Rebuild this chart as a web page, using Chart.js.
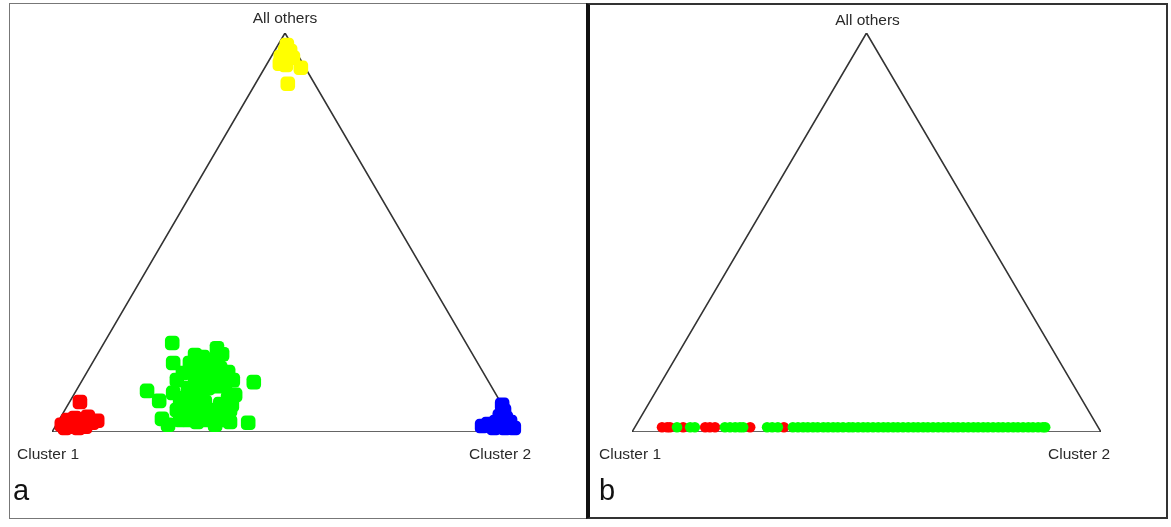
<!DOCTYPE html>
<html>
<head>
<meta charset="utf-8">
<script src="https://cdn.jsdelivr.net/npm/chart.js@4.4.1/dist/chart.umd.min.js"></script>
<style>
  body { margin: 0; background: #fff; width: 1171px; height: 527px; overflow: hidden; position: relative; }
  .panel { position: absolute; box-sizing: border-box; }
  #panel-a { left: 9px; top: 3px; width: 580px; height: 516px; border: 1px solid #777; border-right: none; }
  #panel-b { left: 586px; top: 3px; width: 582px; height: 516px; border: 2px solid #333; border-left: 4px solid #111; }
  canvas { position: absolute; }
  #chart-a { left: 10px; top: 4px; }
  #chart-b { left: 590px; top: 5px; }
  .letter { position: absolute; font-family: "Liberation Sans", Arial, sans-serif; font-size: 29px; color: #111; }
</style>
</head>
<body>
<div class="panel" id="panel-a"></div>
<div class="panel" id="panel-b"></div>
<canvas id="chart-a" width="575" height="514"></canvas>
<canvas id="chart-b" width="575" height="512"></canvas>
<div class="letter" style="left:13px; top:474px;">a</div>
<div class="letter" style="left:599px; top:474px;">b</div>
<script>
  'use strict';

  // corner labels of the ternary plot (bottom-left, bottom-right, top)
  const vertexLabels = ['Cluster 1', 'Cluster 2', 'All others'];

  // triangle outline, in plot percent (x along the base, y = share of "All others")
  const triangleX = [0, 100, 50, 0];
  const triangleY = [0, 0, 100, 0];

  // panel a, [x %, y %]
  const redA = [
    [6.0, 7.5], [2.1, 1.8], [3.4, 3.0], [4.9, 3.5], [6.4, 2.5], [4.3, 1.3],
    [7.7, 3.8], [8.6, 2.3], [9.7, 2.8], [7.1, 1.3], [2.8, 1.0], [5.6, 1.0]
  ];
  const greenA = [
    [25.8, 22.3], [26.0, 17.3], [20.4, 10.3], [23.0, 7.8], [23.6, 3.3], [43.3, 12.5],
    [42.1, 2.3], [35.4, 21.0], [36.5, 19.5], [30.7, 19.3], [32.4, 18.8], [29.6, 17.3],
    [27.5, 3.0], [36.1, 3.0], [38.2, 5.5], [38.8, 13.0], [28.1, 14.8], [26.8, 13.0],
    [26.0, 9.8], [27.5, 7.3], [37.8, 8.5], [29.6, 15.5], [31.8, 16.0], [33.9, 16.8],
    [36.1, 16.0], [37.8, 15.0], [30.7, 13.0], [32.8, 13.5], [35.0, 14.0], [37.1, 11.8],
    [29.2, 11.0], [31.3, 10.5], [33.5, 11.0], [35.6, 11.5], [28.5, 8.5], [30.7, 8.0],
    [32.8, 7.5], [36.1, 7.0], [29.6, 5.5], [31.8, 5.0], [33.9, 5.5], [36.5, 5.0],
    [29.0, 3.0], [31.1, 2.5], [33.3, 3.0], [35.0, 1.8], [24.9, 1.8], [38.2, 2.5],
    [39.3, 9.3], [38.6, 6.8], [26.8, 5.5], [34.3, 18.0], [31.8, 9.0]
  ];
  const blueA = [
    [96.6, 6.8], [97.0, 5.3], [96.1, 4.0], [97.4, 3.5], [98.3, 2.5], [95.3, 2.5],
    [93.6, 2.0], [92.3, 1.5], [94.8, 1.0], [97.2, 1.0], [99.1, 1.0], [96.1, 1.5]
  ];
  const yellowA = [
    [50.4, 97.0], [50.0, 95.5], [51.1, 95.5], [49.1, 94.0], [50.6, 94.0],
    [51.7, 93.8], [48.9, 92.3], [50.2, 92.0], [53.4, 91.3], [50.6, 87.3]
  ];

  // panel b: every sample sits on the base, only x % is read
  const levelB = 1.2;
  const redBX = [6.4, 7.5, 8.1, 10.9, 15.6, 16.6, 17.7, 25.2, 32.4];
  const greenBX = [
    9.6, 12.4, 13.4, 19.8, 20.9, 22.0, 23.0, 23.7, 28.8, 29.9, 31.1,
    34.3, 35.4, 36.5, 37.5, 38.6, 39.6, 40.8, 41.8, 42.9, 43.9, 45.0, 46.2,
    47.1, 48.2, 49.3, 50.3, 51.4, 52.5, 53.6, 54.6, 55.7, 56.7, 57.8, 58.9,
    60.0, 61.0, 62.1, 63.1, 64.2, 65.3, 66.4, 67.4, 68.5, 69.5, 70.6, 71.7,
    72.8, 73.8, 74.9, 75.9, 77.0, 78.1, 79.1, 80.2, 81.3, 82.3, 83.4, 84.5,
    85.5, 86.6, 87.6, 88.1
  ];

  const toPoints = (pairs) => pairs.map(([x, y]) => ({ x: x, y: y }));

  /**
   * Writes the corner labels next to the triangle corners
   */
  const vertexLabelPlugin = {
    id: 'vertexLabels',
    afterDatasetsDraw(chart, args, opts) {
      const { ctx, scales } = chart;
      const corners = [[0, 0], [100, 0], [50, 100]];
      ctx.save();
      ctx.font = '15.5px "Liberation Sans", Arial, sans-serif';
      ctx.fillStyle = '#2a2a2a';
      ctx.textAlign = 'center';
      ctx.textBaseline = 'middle';
      vertexLabels.forEach((label, i) => {
        const px = scales.x.getPixelForValue(corners[i][0]) + opts.offsets[i][0];
        const py = scales.y.getPixelForValue(corners[i][1]) + opts.offsets[i][1];
        ctx.fillText(label, px, py);
      });
      ctx.restore();
    }
  };

  const triangleDataset = () => ({
    type: 'line',
    data: triangleX.map((x, i) => ({ x: x, y: triangleY[i] })),
    borderColor: '#333',
    borderWidth: 1.6,
    pointRadius: 0,
    fill: false,
    tension: 0,
    order: 10
  });

  const pointDataset = (points, color, style, radius, order) => ({
    type: 'scatter',
    data: points,
    backgroundColor: color,
    borderColor: color,
    borderWidth: 0,
    pointStyle: style,
    pointRadius: radius,
    clip: false,
    order: order
  });

  /**
   * Builds one ternary panel
   *
   * @param {String} id canvas id
   * @param {Array} datasets datasets
   * @param {Object} padding chart padding
   * @param {Array} offsets label offsets
   */
  const makeTernary = (id, datasets, padding, offsets) => {
    return new Chart(document.getElementById(id), {
      type: 'scatter',
      data: { datasets: [triangleDataset()].concat(datasets) },
      options: {
        responsive: false,
        animation: false,
        layout: { padding: padding },
        scales: {
          x: { type: 'linear', min: 0, max: 100, display: false },
          y: { type: 'linear', min: 0, max: 100, display: false }
        },
        plugins: {
          legend: { display: false },
          tooltip: { enabled: false },
          vertexLabels: { offsets: offsets }
        }
      },
      plugins: [vertexLabelPlugin]
    });
  };

  makeTernary('chart-a', [
    pointDataset(toPoints(greenA), '#00ff00', 'rectRounded', 8.5, 4),
    pointDataset(toPoints(redA), '#ff0000', 'rectRounded', 8.5, 3),
    pointDataset(toPoints(blueA), '#0000ff', 'rectRounded', 8.5, 2),
    pointDataset(toPoints(yellowA), '#ffff00', 'rectRounded', 8.5, 1)
  ], { left: 42, right: 67, top: 29, bottom: 86 }, [[-4, 23], [-18, 23], [0, -14]]);

  makeTernary('chart-b', [
    pointDataset(redBX.map((x) => ({ x: x, y: levelB })), '#ff0000', 'circle', 5.3, 3),
    pointDataset(greenBX.map((x) => ({ x: x, y: levelB })), '#00ff00', 'circle', 5.3, 2)
  ], { left: 42, right: 64, top: 28, bottom: 85 }, [[-2, 23], [-22, 23], [1, -12]]);
</script>
</body>
</html>
